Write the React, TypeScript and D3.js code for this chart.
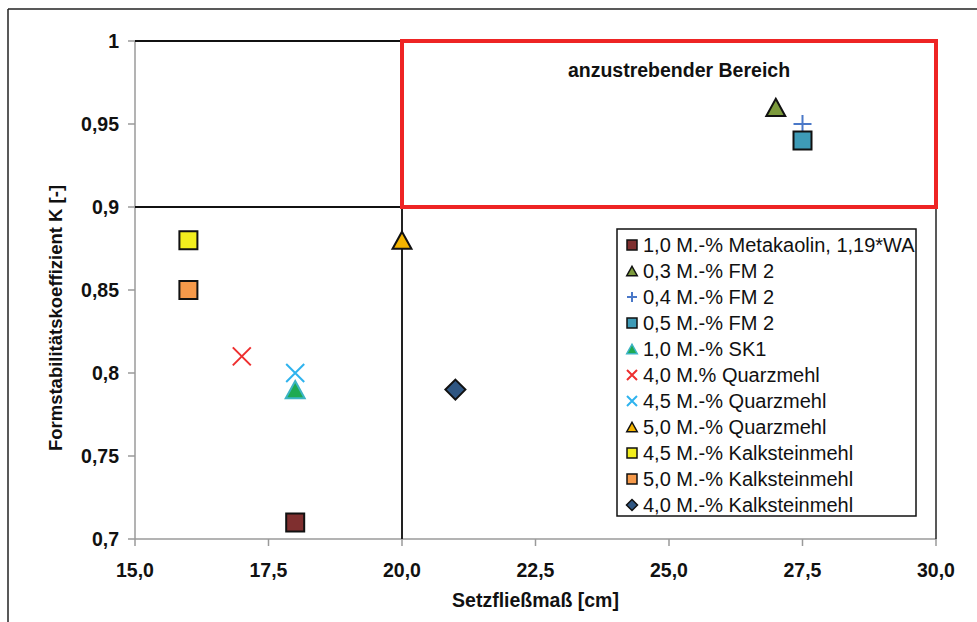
import React from "react";
import * as d3 from "d3";

const seriesNames = [
  "1,0 M.-% Metakaolin, 1,19*WA",
  "0,3 M.-% FM 2",
  "0,4 M.-% FM 2",
  "0,5 M.-% FM 2",
  "1,0 M.-% SK1",
  "4,0 M.% Quarzmehl",
  "4,5 M.-% Quarzmehl",
  "5,0 M.-% Quarzmehl",
  "4,5 M.-% Kalksteinmehl",
  "5,0 M.-% Kalksteinmehl",
  "4,0 M.-% Kalksteinmehl",
];
const xValues = [18.0, 27.0, 27.5, 27.5, 18.0, 17.0, 18.0, 20.0, 16.0, 16.0, 21.0];
const yValues = [0.71, 0.96, 0.95, 0.94, 0.79, 0.81, 0.8, 0.88, 0.88, 0.85, 0.79];
const shapes = ["square", "triangle", "plus", "square", "triangle", "x", "x", "triangle", "square", "square", "diamond"];
const fills = ["#7f2f2f", "#7c9a3c", "#4a78c8", "#3e9bb7", "#1eaa52", "#ee2f2f", "#2fb3ee", "#f4b400", "#f2ee1e", "#f5994a", "#2f5682"];
const strokes = ["#111", "#111", "#4a78c8", "#111", "#3cb4c4", "#ee2f2f", "#2fb3ee", "#111", "#111", "#111", "#111"];

const xTicks = [15, 17.5, 20, 22.5, 25, 27.5, 30];
const yTicks = [0.7, 0.75, 0.8, 0.85, 0.9, 0.95, 1];
const targetX = [20, 30];
const targetY = [0.9, 1];

const FONT = "'Liberation Sans', Arial, sans-serif";

function markerPath(shape: string, s: number): string {
  const h = s / 2;
  switch (shape) {
    case "square":
      return `M${-h},${-h}H${h}V${h}H${-h}Z`;
    case "triangle":
      return `M0,${-h * 0.95}L${h * 1.05},${h * 0.95}L${-h * 1.05},${h * 0.95}Z`;
    case "diamond":
      return `M0,${-h}L${h},0L0,${h}L${-h},0Z`;
    case "plus":
      return `M${-h},0H${h}M0,${-h}V${h}`;
    case "x":
      return `M${-h},${-h}L${h},${h}M${h},${-h}L${-h},${h}`;
    default:
      return "";
  }
}

function Marker({ shape, fill, stroke, size, x, y }: any) {
  const isLine = shape === "plus" || shape === "x";
  return (
    <path
      d={markerPath(shape, size)}
      transform={`translate(${x},${y})`}
      fill={isLine ? "none" : fill}
      stroke={stroke}
      strokeWidth={isLine ? 2 : size > 12 ? 2 : 1.5}
      strokeLinejoin="miter"
    />
  );
}

export default function App() {
  const W = 977;
  const H = 622;
  const x = d3.scaleLinear().domain([15, 30]).range([135, 936]);
  const y = d3.scaleLinear().domain([0.7, 1]).range([539, 41]);
  const fmtX = (v: number) => d3.format(".1f")(v).replace(".", ",");
  const fmtY = (v: number) => String(+v.toFixed(2)).replace(".", ",");

  const legX = 617;
  const legY = 229;
  const legW = 299;
  const legH = 287;
  const rowH = 26;

  return (
    <svg
      width={W}
      height={H}
      style={{ position: "absolute", left: 0, top: 0, background: "#fff" }}
      fontFamily={FONT}
    >
      <rect x={0} y={0} width={W} height={H} fill="#fff" />
      {/* outer frame */}
      <line x1={8} y1={9} x2={W} y2={9} stroke="#222" strokeWidth={1.5} />
      <line x1={8} y1={9} x2={8} y2={H} stroke="#222" strokeWidth={1.5} />

      {/* axes */}
      <line x1={x(15)} y1={y(1)} x2={x(15)} y2={y(0.7)} stroke="#9a9a9a" strokeWidth={1.5} />
      <line x1={x(15)} y1={y(0.7)} x2={x(30)} y2={y(0.7)} stroke="#9a9a9a" strokeWidth={1.5} />
      {yTicks.map((t) => (
        <g key={"yt" + t}>
          <line x1={x(15) - 7} x2={x(15)} y1={y(t)} y2={y(t)} stroke="#9a9a9a" strokeWidth={1.5} />
          <text
            x={x(15) - 16}
            y={y(t)}
            dy="0.36em"
            textAnchor="end"
            fontSize={19.5}
            fontWeight="bold"
            fill="#111"
          >
            {fmtY(t)}
          </text>
        </g>
      ))}
      {xTicks.map((t) => (
        <g key={"xt" + t}>
          <line x1={x(t)} x2={x(t)} y1={y(0.7)} y2={y(0.7) + 7} stroke="#9a9a9a" strokeWidth={1.5} />
          <text
            x={x(t)}
            y={y(0.7) + 31}
            dy="0.36em"
            textAnchor="middle"
            fontSize={19.5}
            fontWeight="bold"
            fill="#111"
          >
            {fmtX(t)}
          </text>
        </g>
      ))}

      {/* reference lines */}
      <line x1={x(15)} y1={y(1)} x2={x(30)} y2={y(1)} stroke="#111" strokeWidth={2} />
      <line x1={x(15)} y1={y(0.9)} x2={x(30)} y2={y(0.9)} stroke="#111" strokeWidth={2} />
      <line x1={x(20)} y1={y(1)} x2={x(20)} y2={y(0.7)} stroke="#222" strokeWidth={2} />
      <line x1={x(30)} y1={y(1)} x2={x(30)} y2={y(0.7)} stroke="#222" strokeWidth={1.5} />

      {/* target region */}
      <rect
        x={x(targetX[0])}
        y={y(targetY[1])}
        width={x(targetX[1]) - x(targetX[0])}
        height={y(targetY[0]) - y(targetY[1])}
        fill="none"
        stroke="#ee2424"
        strokeWidth={4}
      />
      <text x={679} y={70} dy="0.36em" textAnchor="middle" fontSize={19.5} fontWeight="bold" fill="#111">
        anzustrebender Bereich
      </text>

      {/* axis titles */}
      <text
        x={x(22.5)}
        y={600}
        dy="0.36em"
        textAnchor="middle"
        fontSize={19.5}
        fontWeight="bold"
        fill="#111"
      >
        Setzfließmaß [cm]
      </text>
      <text
        transform={`translate(55,318) rotate(-90)`}
        dy="0.36em"
        textAnchor="middle"
        fontSize={18.5}
        fontWeight="bold"
        fill="#111"
      >
        Formstabilitätskoeffizient K [-]
      </text>

      {/* points */}
      {seriesNames.map((n, i) => (
        <Marker
          key={"p" + i}
          shape={shapes[i]}
          fill={fills[i]}
          stroke={strokes[i]}
          size={shapes[i] === "diamond" ? 20 : 18}
          x={x(xValues[i])}
          y={y(yValues[i])}
        />
      ))}

      {/* legend */}
      <rect x={legX} y={legY} width={legW} height={legH} fill="#fff" stroke="#111" strokeWidth={1.5} />
      {seriesNames.map((n, i) => {
        const cy = legY + 16 + i * rowH;
        return (
          <g key={"l" + i}>
            <Marker
              shape={shapes[i]}
              fill={fills[i]}
              stroke={strokes[i]}
              size={shapes[i] === "diamond" ? 11 : 10}
              x={legX + 15}
              y={cy}
            />
            <text x={legX + 26} y={cy} dy="0.36em" fontSize={20} fill="#111">
              {n}
            </text>
          </g>
        );
      })}
    </svg>
  );
}
